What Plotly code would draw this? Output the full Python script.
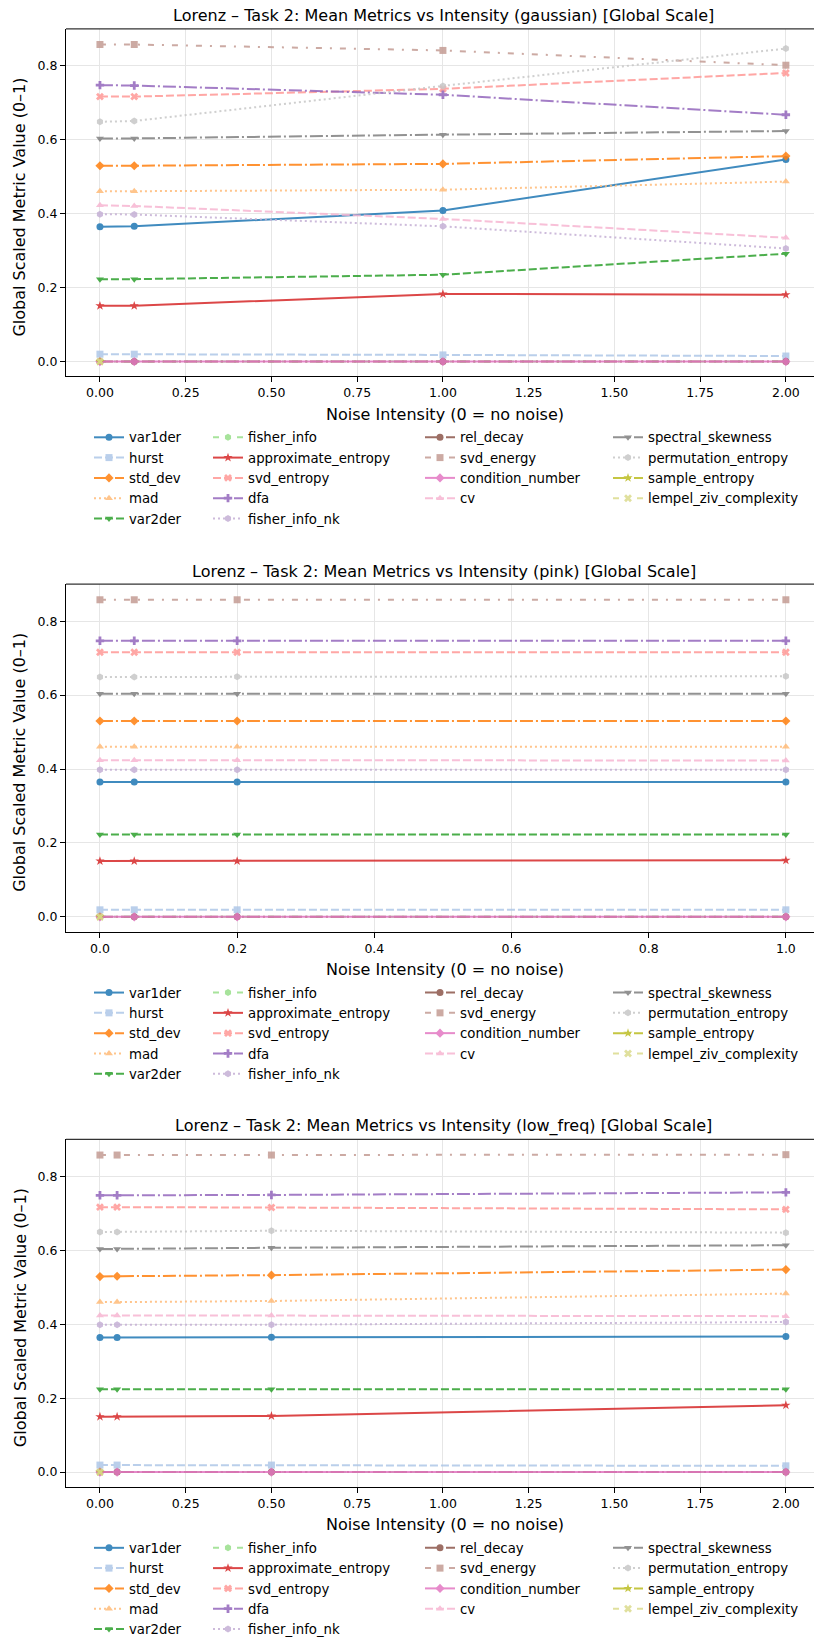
import plotly.graph_objects as go

W, H = 814, 1645

names = ["var1der", "hurst", "std_dev", "mad", "var2der", "fisher_info",
         "approximate_entropy", "svd_entropy", "dfa", "fisher_info_nk",
         "rel_decay", "svd_energy", "condition_number", "cv",
         "spectral_skewness", "permutation_entropy", "sample_entropy",
         "lempel_ziv_complexity"]

colors = ["#1f77b4", "#aec7e8", "#ff7f0e", "#ffbb78", "#2ca02c", "#98df8a",
          "#d62728", "#ff9896", "#9467bd", "#c5b0d5", "#8c564b", "#c49c94",
          "#e377c2", "#f7b6d2", "#7f7f7f", "#c7c7c7", "#bcbd22", "#dbdb8d"]

symbols = ["circle", "square", "diamond", "triangle-up", "triangle-down", "hexagon",
           "star", "x", "cross", "hexagon", "circle", "square", "diamond",
           "triangle-up", "triangle-down", "hexagon", "star", "x"]

SOLID, DASH, DASHDOT, DOT, LOOSE = "solid", "8px,3px", "13px,3px,2px,3px", "2px,3px", "6px,8px,2px,8px"
dashes = [SOLID, DASH, DASHDOT, DOT, DASH, LOOSE, SOLID, DASH, DASHDOT, DOT,
          DASHDOT, LOOSE, SOLID, DASH, DASHDOT, DOT, DASHDOT, LOOSE]

# ---- gaussian ----
x_gauss = [0.0, 0.1, 1.0, 2.0]
gauss = {
    "var1der": [0.365, 0.366, 0.409, 0.547],
    "hurst": [0.020, 0.020, 0.018, 0.015],
    "std_dev": [0.530, 0.530, 0.535, 0.556],
    "mad": [0.461, 0.461, 0.465, 0.487],
    "var2der": [0.223, 0.223, 0.235, 0.292],
    "fisher_info": [0.0, 0.0, 0.0, 0.0],
    "approximate_entropy": [0.151, 0.151, 0.183, 0.181],
    "svd_entropy": [0.717, 0.717, 0.738, 0.781],
    "dfa": [0.748, 0.747, 0.722, 0.668],
    "fisher_info_nk": [0.399, 0.398, 0.366, 0.306],
    "rel_decay": [0.0, 0.0, 0.0, 0.0],
    "svd_energy": [0.858, 0.858, 0.842, 0.802],
    "condition_number": [0.0, 0.0, 0.0, 0.0],
    "cv": [0.423, 0.421, 0.386, 0.335],
    "spectral_skewness": [0.604, 0.604, 0.614, 0.624],
    "permutation_entropy": [0.649, 0.651, 0.746, 0.847],
    "sample_entropy": [0.0, None, None, None],
    "lempel_ziv_complexity": [0.0, None, None, None],
}

# ---- pink ----
x_pink = [0.0, 0.05, 0.2, 1.0]
pink = {
    "var1der": [0.365, 0.365, 0.365, 0.365],
    "hurst": [0.019, 0.019, 0.019, 0.019],
    "std_dev": [0.530, 0.530, 0.530, 0.530],
    "mad": [0.460, 0.460, 0.460, 0.460],
    "var2der": [0.223, 0.223, 0.223, 0.223],
    "fisher_info": [0.0, 0.0, 0.0, 0.0],
    "approximate_entropy": [0.151, 0.151, 0.151, 0.153],
    "svd_entropy": [0.716, 0.716, 0.716, 0.716],
    "dfa": [0.747, 0.747, 0.747, 0.747],
    "fisher_info_nk": [0.398, 0.398, 0.398, 0.398],
    "rel_decay": [0.0, 0.0, 0.0, 0.0],
    "svd_energy": [0.858, 0.858, 0.858, 0.858],
    "condition_number": [0.0, 0.0, 0.0, 0.0],
    "cv": [0.424, 0.424, 0.424, 0.423],
    "spectral_skewness": [0.604, 0.604, 0.604, 0.604],
    "permutation_entropy": [0.649, 0.649, 0.650, 0.651],
    "sample_entropy": [0.0, None, None, None],
    "lempel_ziv_complexity": [0.0, None, None, None],
}

# ---- low_freq ----
x_low = [0.0, 0.05, 0.5, 2.0]
low = {
    "var1der": [0.364, 0.364, 0.365, 0.367],
    "hurst": [0.019, 0.019, 0.019, 0.017],
    "std_dev": [0.529, 0.530, 0.533, 0.548],
    "mad": [0.460, 0.460, 0.463, 0.483],
    "var2der": [0.224, 0.224, 0.224, 0.224],
    "fisher_info": [0.0, 0.0, 0.0, 0.0],
    "approximate_entropy": [0.150, 0.150, 0.152, 0.181],
    "svd_entropy": [0.717, 0.717, 0.716, 0.711],
    "dfa": [0.749, 0.749, 0.750, 0.757],
    "fisher_info_nk": [0.399, 0.399, 0.399, 0.406],
    "rel_decay": [0.0, 0.0, 0.0, 0.0],
    "svd_energy": [0.858, 0.858, 0.858, 0.859],
    "condition_number": [0.0, 0.0, 0.0, 0.0],
    "cv": [0.424, 0.424, 0.424, 0.422],
    "spectral_skewness": [0.604, 0.604, 0.607, 0.614],
    "permutation_entropy": [0.650, 0.650, 0.653, 0.648],
    "sample_entropy": [0.0, None, None, None],
    "lempel_ziv_complexity": [0.0, None, None, None],
}

panels = [
    ("gaussian", x_gauss, gauss, [-0.099, 2.082], 0.25, ".2f", 29),
    ("pink", x_pink, pink, [-0.0495, 1.041], 0.2, ".1f", 588),
    ("low_freq", x_low, low, [-0.099, 2.082], 0.25, ".2f", 1147),
]

FONT = "DejaVu Sans"
fig = go.Figure()
layout = dict(width=W, height=H, margin=dict(l=0, r=0, t=0, b=0),
              plot_bgcolor="white", paper_bgcolor="white", showlegend=True,
              font=dict(family=FONT, color="black"))
annotations = []
shapes = []
col_sizes = [5, 5, 4, 4]
col_text_x = [129, 248, 460, 648]
PLOT_H = 350
X0 = 66

for p, (noise, xs, data, xr, dt, fmt, top) in enumerate(panels):
    ax = "" if p == 0 else str(p + 1)
    bottom = top + PLOT_H
    layout["xaxis" + ax] = dict(
        domain=[X0 / W, 1.0], range=xr, dtick=dt, tick0=0, tickformat=fmt,
        showgrid=True, gridcolor="#e6e6e6", gridwidth=1, zeroline=False,
        showline=True, linecolor="black", linewidth=1, mirror=False,
        ticks="outside", ticklen=5, tickcolor="black",
        tickfont=dict(size=12.5, family=FONT), anchor="y" + ax)
    layout["yaxis" + ax] = dict(
        domain=[1 - bottom / H, 1 - top / H], range=[-0.0403, 0.9005], dtick=0.2,
        tick0=0, tickformat=".1f", showgrid=True, gridcolor="#e6e6e6", gridwidth=1,
        zeroline=False, showline=True, linecolor="black", linewidth=1, mirror=False,
        ticks="outside", ticklen=5, tickcolor="black",
        tickfont=dict(size=12.5, family=FONT), anchor="x" + ax)
    # top spine of the axes frame
    shapes.append(dict(type="line", xref="paper", yref="paper",
                       x0=X0 / W, x1=1.0, y0=1 - top / H, y1=1 - top / H,
                       line=dict(color="#333333", width=1.3)))

    legend_ids = []
    for c in range(4):
        lid = p * 4 + c + 1
        key = "legend" if lid == 1 else "legend%d" % lid
        legend_ids.append(key)
        layout[key] = dict(
            x=(col_text_x[c] - 40) / W, xanchor="left", xref="paper",
            y=1 - (bottom + 46) / H, yanchor="top", yref="paper",
            bgcolor="rgba(0,0,0,0)", font=dict(size=13.3, family=FONT),
            tracegroupgap=0, itemwidth=30, orientation="v")

    idx = 0
    for c, n in enumerate(col_sizes):
        for _ in range(n):
            name = names[idx]
            fig.add_trace(go.Scatter(
                x=xs, y=data[name], name=name, mode="lines+markers",
                xaxis="x" + ax, yaxis="y" + ax, legend=legend_ids[c],
                opacity=0.85, connectgaps=False,
                line=dict(color=colors[idx], width=2, dash=dashes[idx]),
                marker=dict(symbol=symbols[idx], size=7, color=colors[idx],
                            line=dict(width=0))))
            idx += 1

    annotations.append(dict(
        text="Lorenz – Task 2: Mean Metrics vs Intensity (%s) [Global Scale]" % noise,
        x=443.5 / W, y=1 - (top - 13) / H, xref="paper", yref="paper",
        xanchor="center", yanchor="middle", showarrow=False,
        font=dict(size=16, family=FONT)))
    annotations.append(dict(
        text="Noise Intensity (0 = no noise)", x=445 / W, y=1 - (bottom + 38) / H,
        xref="paper", yref="paper", xanchor="center", yanchor="middle",
        showarrow=False, font=dict(size=16, family=FONT)))
    annotations.append(dict(
        text="Global Scaled Metric Value (0–1)", x=20 / W,
        y=1 - (top + 180) / H, xref="paper", yref="paper", xanchor="center",
        yanchor="middle", textangle=-90, showarrow=False,
        font=dict(size=16, family=FONT)))

layout["annotations"] = annotations
layout["shapes"] = shapes
fig.update_layout(**layout)
fig.write_html("out.html")
